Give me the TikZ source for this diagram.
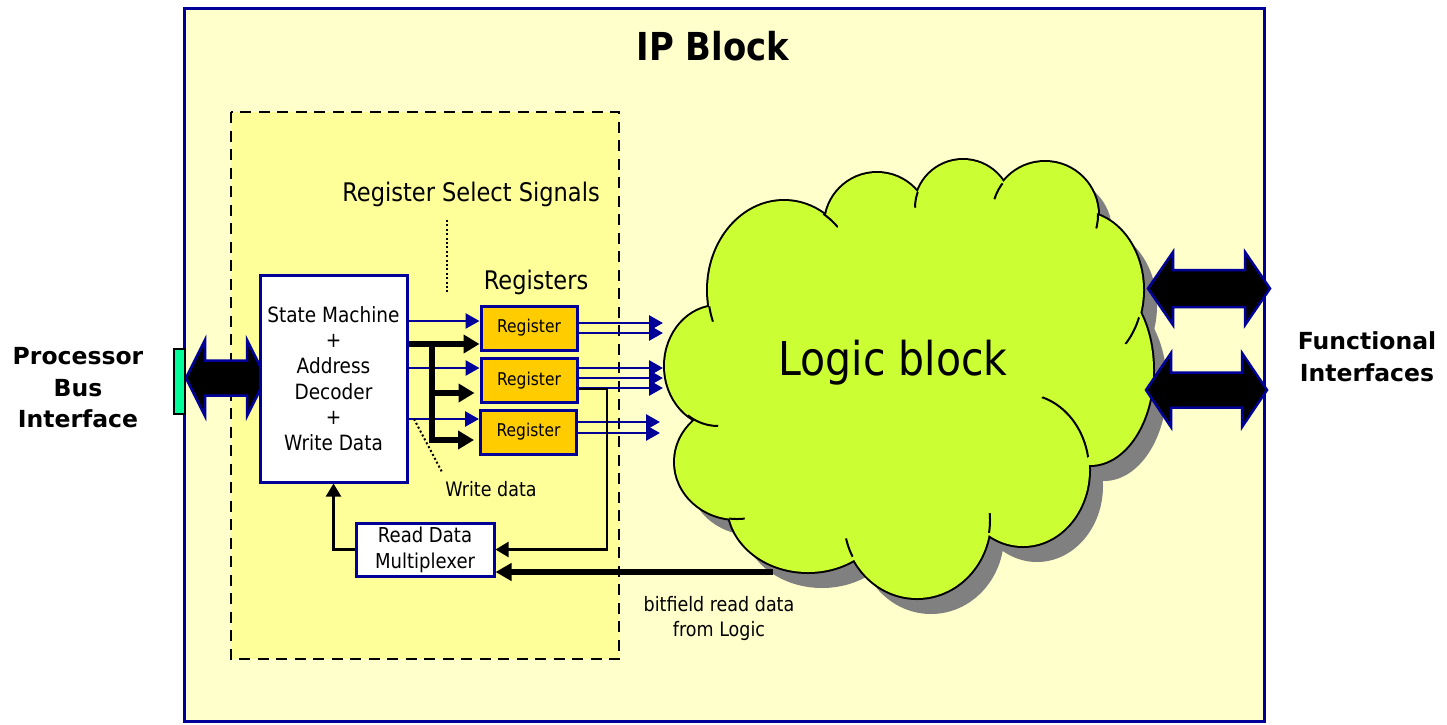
\documentclass[tikz,border=0pt]{standalone}
\usepackage{fontspec}
\setmainfont{DejaVu Sans}[FakeStretch=0.88]
\newfontfamily\headfont{DejaVu Sans}
\usetikzlibrary{arrows.meta,calc}

\definecolor{ipfill}{HTML}{FFFFCC}
\definecolor{regionfill}{HTML}{FFFF99}
\definecolor{navy}{HTML}{000099}
\definecolor{cloudgreen}{HTML}{CCFF33}
\definecolor{regorange}{HTML}{FFCC00}
\definecolor{mint}{HTML}{00FF99}
\definecolor{shadowgray}{HTML}{808080}

\newcommand{\setfs}[2]{\fontsize{#1}{#2}\selectfont}

% bumps of the cloud: centre x / centre y / x radius / y radius
\def\bumps{784/290/76/89, 718/366/53/60, 737/462/62/57, 808/505/80/67,
  917/520/73/78, 1023/470/66/76, 1090/370/63/95, 1080/290/63/78,
  1045/215/53/53, 963/208/48/48, 877/225/52/52}

% fills the whole cloud body (bumps plus core)
\newcommand{\cloudbody}[1]{%
  \foreach \cx/\cy/\rx/\ry in \bumps {\fill[#1] (\cx,\cy) ellipse [x radius=\rx, y radius=\ry];}
  \fill[#1] (784,290) -- (718,366) -- (737,462) -- (808,505) -- (917,520) -- (1023,470)
    -- (1090,370) -- (1080,290) -- (1045,215) -- (963,208) -- (877,225) -- cycle;}

% short inner stroke of one bump, cut out by a small disc
\newcommand{\cloudtail}[7]{%
  \begin{scope}
    \clip (#1,#2) circle [radius=#3];
    \draw[line width=2pt] (#4,#5) ellipse [x radius=#6, y radius=#7];
  \end{scope}}

% wide double-headed bus arrow: x1, x2, y, head length, head half height, shaft half height
\newcommand{\busarrow}[6]{%
  \filldraw[fill=black, draw=navy, line width=2.5pt, line join=miter]
    (#1,#3) -- ({#1+#4},{#3-#5}) -- ({#1+#4},{#3-#6}) -- ({#2-#4},{#3-#6})
    -- ({#2-#4},{#3-#5}) -- (#2,#3) -- ({#2-#4},{#3+#5}) -- ({#2-#4},{#3+#6})
    -- ({#1+#4},{#3+#6}) -- ({#1+#4},{#3+#5}) -- cycle;}

\tikzset{
  bluebox/.style={draw=navy, line width=3pt, inner sep=0pt},
  regbox/.style={bluebox, fill=regorange, minimum width=96pt, minimum height=44pt,
    font=\setfs{17.6}{20}},
  sig/.style={navy, line width=2.8pt, -{Triangle[length=14pt,width=15pt]}},
  wbus/.style={black, line width=5.5pt, -{Triangle[length=16pt,width=18pt]}},
  rdline/.style={black, line width=2.2pt, -{Triangle[length=13pt,width=15pt]}},
  rdbus/.style={black, line width=5.5pt, -{Triangle[length=16pt,width=17pt]}},
  dots/.style={black, line width=2pt, dash pattern=on 2pt off 2.4pt},
}

\begin{document}
\begin{tikzpicture}[x=1pt, y=-1pt]
\useasboundingbox (0,0) rectangle (1447,724);
\fill[white] (0,0) rectangle (1447,724);

% IP block frame
\draw[draw=navy, line width=3pt, fill=ipfill] (184.5,8) rectangle (1264.5,721);
\node (title) at (713,46) {\bfseries\setfs{38.5}{44}IP Block};

% register interface region
\draw[black, line width=2.8pt, dash pattern=on 11pt off 7.5pt, fill=regionfill]
  (231,112) rectangle (619,659);

% logic block cloud with drop shadow
\begin{scope}[shift={(14,16)}]
  \cloudbody{shadowgray}
\end{scope}
\foreach \cx/\cy/\rx/\ry in \bumps {
  \filldraw[fill=cloudgreen, draw=black, line width=4pt] (\cx,\cy) ellipse [x radius=\rx, y radius=\ry];}
\cloudbody{cloudgreen}
\cloudtail{831}{220}{10}{784}{290}{76}{89}
\cloudtail{711}{314}{8}{784}{290}{76}{89}
\cloudtail{703}{421}{16}{718}{366}{53}{60}
\cloudtail{737}{517}{8}{737}{462}{62}{57}
\cloudtail{848}{548}{10}{917}{520}{73}{78}
\cloudtail{990}{523}{10}{917}{520}{73}{78}
\cloudtail{1068}{425}{38}{1023}{470}{66}{76}
\cloudtail{1131}{330}{15}{1080}{290}{63}{78}
\cloudtail{998}{191}{9}{1045}{215}{53}{53}
\cloudtail{1099}{221}{8}{1045}{215}{53}{53}
\cloudtail{917}{200}{8}{963}{208}{48}{48}
\node (logic) at (893,363) {\setfs{46.6}{54}Logic block};
\coordinate (cl) at (663,363);
\coordinate (cloudrd) at (773,572);

% external interfaces
\busarrow{186}{266}{378}{19}{38}{17.5}
\node (port) [draw=black, line width=1.5pt, fill=mint, minimum width=11pt,
  minimum height=65pt, inner sep=0pt] at (179.5,381.5) {};
\busarrow{1148}{1270}{288.5}{25}{36.5}{18.5}
\busarrow{1146}{1267}{390}{25}{37}{17.5}

% blocks
\node (sm) [bluebox, fill=white, minimum width=147pt, minimum height=207pt, align=center,
  font=\setfs{21}{25.6}] at (333.5,378.5)
  {State Machine\\+\\Address\\Decoder\\+\\Write Data};
\node (r1) [regbox] at (529,328) {Register};
\node (r2) [regbox] at (529,380.5) {Register};
\node (r3) [regbox] at (528.5,432) {Register};
\node (mux) [bluebox, fill=white, minimum width=138pt, minimum height=53pt, align=center,
  font=\setfs{20.5}{26}] at (425,549.5) {Read Data\\Multiplexer};

% labels
\node (rss) at (471,194) {\setfs{25.6}{30}Register Select Signals};
\node (regs) at (536,282) {\setfs{25.6}{30}Registers};
\node (wdl) at (491,489) {\setfs{19.9}{23}Write data};
\node (bfl) [align=center, font=\setfs{19.9}{25}] at (719,618) {bitfield read data\\from Logic};
\node (pbi) [align=center, font=\headfont\bfseries\setfs{23.5}{31.5}] at (78,388) {Processor\\Bus\\Interface};
\node (fi) [align=center, font=\headfont\bfseries\setfs{23.5}{32}] at (1367,357) {Functional\\Interfaces};

% select signals into the registers
\draw[sig] (sm.east |- 0,321) -- (r1.west |- 0,321);
\draw[sig] (sm.east |- 0,368) -- (r2.west |- 0,368);
\draw[sig] (sm.east |- 0,419) -- (r3.west |- 0,419);

% register outputs to the logic
\draw[sig] (r1.east |- 0,323) -- (cl |- 0,323);
\draw[sig] (r1.east |- 0,333) -- (cl |- 0,333);
\draw[sig] (r2.east |- 0,368) -- (cl |- 0,368);
\draw[sig] (r2.east |- 0,378) -- (cl |- 0,378);
\draw[sig] (r2.east |- 0,388) -- (cl |- 0,388);
\draw[sig] (r3.east |- 0,422) -- ($(cl |- 0,422)+(-3,0)$);
\draw[sig] (r3.east |- 0,433) -- ($(cl |- 0,433)+(-3,0)$);

% write data bus
\coordinate (wd) at (432,344);
\draw[wbus] (sm.east |- wd) -- (r1.west |- wd);
\draw[wbus] (wd) |- ($(r2.west |- 0,393)+(-5,0)$);
\draw[wbus] (wd) |- ($(r3.west |- 0,440)+(-5,0)$);

% read path
\draw[rdline] (r2.east |- 0,389) -- (607,389) |- (mux.east);
\draw[rdline] (mux.west) -| (sm.south);
\draw[rdbus] (cloudrd) -- (mux.east |- cloudrd);

% pointer lines
\coordinate (rssend) at (447,292);
\draw[dots] (rss.south -| rssend) ++(0,10) -- (rssend);
\coordinate (wdstart) at (414,419);
\draw[dots] (wdstart) -- (442,472);
\end{tikzpicture}
\end{document}
